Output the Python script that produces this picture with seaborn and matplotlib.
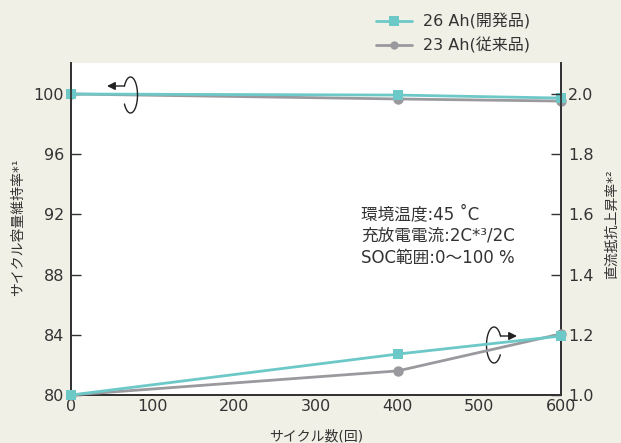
import matplotlib
matplotlib.use("Agg")
import matplotlib.pyplot as plt
from matplotlib.lines import Line2D
import seaborn as sns
import pandas as pd
import numpy as np

cycles = [0, 400, 600]
cap_26 = [100.0, 99.93, 99.73]
cap_23 = [100.0, 99.67, 99.53]
res_26 = [1.0, 1.136, 1.196]
res_23 = [1.0, 1.08, 1.203]
series = ["26 Ah(開発品)", "23 Ah(従来品)"]
x_ticks = [0, 100, 200, 300, 400, 500, 600]
left_ticks = [80, 84, 88, 92, 96, 100]
right_ticks = [1.0, 1.2, 1.4, 1.6, 1.8, 2.0]

sns.set_theme(style="white")
plt.rcParams['font.family'] = ['DejaVu Sans', 'Noto Sans CJK JP']
txt = "#333333"
bg = "#f1f0e6"
teal = "#6cc9c7"
gray = "#9a9a9e"

W, H = 621, 443
L, R, T, B = 71, 561, 63, 395
fig = plt.figure(figsize=(W / 100, H / 100), dpi=100, facecolor=bg)
ax = fig.add_axes([L / W, 1 - B / H, (R - L) / W, (B - T) / H])
ax.set_facecolor("white")
ax2 = ax.twinx()

cap_df = pd.DataFrame({"cycle": cycles * 2, "val": cap_23 + cap_26,
                       "s": [series[1]] * 3 + [series[0]] * 3})
res_df = pd.DataFrame({"cycle": cycles * 2, "val": res_23 + res_26,
                       "s": [series[1]] * 3 + [series[0]] * 3})
pal = {series[0]: teal, series[1]: gray}
mk = {series[0]: "s", series[1]: "o"}

for a, df in [(ax, cap_df), (ax2, res_df)]:
    sns.lineplot(data=df, x="cycle", y="val", hue="s", style="s", palette=pal,
                 markers=mk, dashes=False, markersize=7.5, markeredgewidth=0,
                 linewidth=2, ax=a, legend=False, clip_on=False, zorder=5)

ax.set_xlim(0, 600)
ax.set_ylim(80, 102.06)
ax2.set_ylim(1.0, 2.103)
ax.set_xticks(x_ticks)
ax.set_yticks(left_ticks)
ax2.set_yticks(right_ticks)
ax2.set_yticklabels([f"{v:.1f}" for v in right_ticks])

for a in (ax, ax2):
    a.tick_params(direction="in", length=7, width=1, colors=txt, labelsize=11.5, pad=5)
    for s in a.spines.values():
        s.set_color("#333333")
        s.set_linewidth(1.3)
    a.spines["top"].set_visible(False)
ax.tick_params(axis="x", pad=3)

def fx(px):
    return (px - L) / (R - L)

def fy(py):
    return (B - py) / (B - T)

ax.set_xlabel("サイクル数(回)", fontsize=10, color=txt, va="center")
ax.xaxis.set_label_coords(fx(316), fy(437))
ax.set_ylabel("サイクル容量維持率*¹", fontsize=10, color=txt, va="center", ha="center")
ax.yaxis.set_label_coords(fx(18), fy(227))
ax2.set_ylabel("直流抵抗上昇率*²", fontsize=10, color=txt, va="center", ha="center")
ax2.yaxis.set_label_coords(fx(612), fy(224))

ax.text(fx(361), fy(236), "環境温度:45 ˚C\n充放電電流:2C*³/2C\nSOC範囲:0〜100 %",
        transform=ax.transAxes, fontsize=12, color=txt, va="center", ha="left",
        linespacing=1.25)

# curly arrows (decorations, drawn in pixel-derived axes fractions)
def loop(cx, cy, rw, rh, t1, t2, start_x, tip_x, ay):
    t = np.radians(np.linspace(t1, t2, 120))
    xs = cx + rw * np.cos(t)
    ys = cy - rh * np.sin(t)
    ax.plot(fx(xs), fy(ys), transform=ax.transAxes, color="#222222", lw=1,
            clip_on=False, zorder=6)
    ax.annotate("", xy=(fx(tip_x), fy(ay)), xytext=(fx(start_x), fy(ay)),
                xycoords="axes fraction", textcoords="axes fraction",
                arrowprops=dict(arrowstyle="-|>", color="#222222", lw=1,
                                mutation_scale=12, shrinkA=0, shrinkB=0),
                zorder=6)

loop(130.5, 95, 7, 18, -150, 150, 124.5, 107, 86)
loop(494, 345, 7.5, 18, 30, 327, 500.5, 517, 336)

handles = [Line2D([], [], color=teal, marker="s", markersize=6.5, lw=2, markeredgewidth=0),
           Line2D([], [], color=gray, marker="o", markersize=6, lw=2, markeredgewidth=0)]
fig.legend(handles, series, loc="upper left", bbox_to_anchor=(362 / W, 1 + 1 / H),
           frameon=False, fontsize=11.5, labelcolor=txt, handlelength=2.2,
           labelspacing=0.5, handletextpad=0.7)

fig.savefig("out.png", dpi=100, facecolor=bg)
